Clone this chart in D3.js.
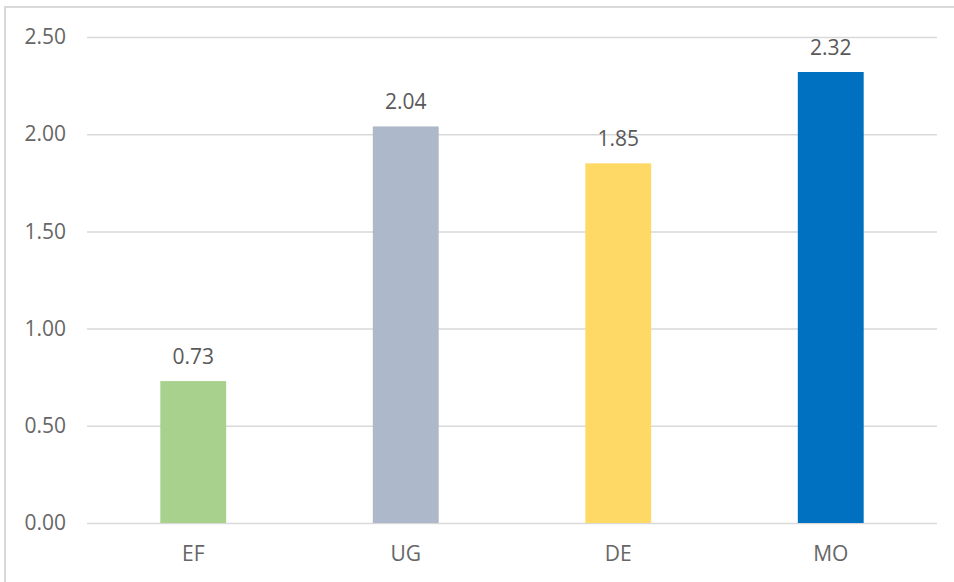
<!DOCTYPE html>
<html>
<head>
<meta charset="utf-8">
<script src="https://cdn.jsdelivr.net/npm/d3@7"></script>
<style>
  html, body { margin: 0; padding: 0; background: #fff; }
  svg { display: block; font-family: "Open Sans", "Noto Sans", sans-serif; }
</style>
</head>
<body>
<svg id="chart" width="954" height="582"></svg>
<script>
// Chart data
const categories = ["EF", "UG", "DE", "MO"];
const values = [0.73, 2.04, 1.85, 2.32];
const barColors = ["#a9d18e", "#adb9ca", "#ffd966", "#0070c0"];
const yTicks = [0, 0.5, 1, 1.5, 2, 2.5];

const svg = d3.select("#chart");
const W = 954, H = 582;
const plot = { left: 87, right: 937, top: 37, bottom: 523 };
const fontSize = 21;

// Outer frame (left and top edges visible within the canvas)
svg.append("rect")
  .attr("x", 5).attr("y", 7)
  .attr("width", W + 20).attr("height", H + 20)
  .attr("fill", "none")
  .attr("stroke", "#d9d9d9")
  .attr("stroke-width", 2);

const x = d3.scaleBand()
  .domain(categories)
  .range([plot.left, plot.right])
  .paddingInner(0.69)
  .paddingOuter(0.345);

const y = d3.scaleLinear()
  .domain([0, 2.5])
  .range([plot.bottom, plot.top]);

// Horizontal gridlines with tick labels
const yAxis = d3.axisLeft(y)
  .tickValues(yTicks)
  .tickFormat(d3.format(".2f"))
  .tickSize(-(plot.right - plot.left))
  .tickPadding(21);

const gy = svg.append("g")
  .attr("transform", `translate(${plot.left},0)`)
  .call(yAxis);
gy.select(".domain").remove();
gy.selectAll(".tick line").attr("stroke", "#d9d9d9").attr("stroke-width", 1.5);
gy.selectAll(".tick text")
  .attr("fill", "#666666")
  .attr("font-size", fontSize)
  .attr("font-family", "'Open Sans', sans-serif");

// Category axis labels
const xAxis = d3.axisBottom(x).tickSize(0).tickPadding(23);
const gx = svg.append("g")
  .attr("transform", `translate(0,${plot.bottom})`)
  .call(xAxis);
gx.select(".domain").remove();
gx.selectAll(".tick text")
  .attr("fill", "#666666")
  .attr("font-size", fontSize)
  .attr("font-family", "'Open Sans', sans-serif");

// Bars
svg.append("g").selectAll("rect")
  .data(categories)
  .join("rect")
  .attr("x", d => x(d))
  .attr("y", (d, i) => y(values[i]))
  .attr("width", x.bandwidth())
  .attr("height", (d, i) => y(0) - y(values[i]))
  .attr("fill", (d, i) => barColors[i]);

// Value labels above bars
svg.append("g").selectAll("text")
  .data(categories)
  .join("text")
  .attr("x", d => x(d) + x.bandwidth() / 2)
  .attr("y", (d, i) => y(values[i]) - 17)
  .attr("text-anchor", "middle")
  .attr("fill", "#595959")
  .attr("font-size", fontSize)
  .text((d, i) => d3.format(".2f")(values[i]));
</script>
</body>
</html>
